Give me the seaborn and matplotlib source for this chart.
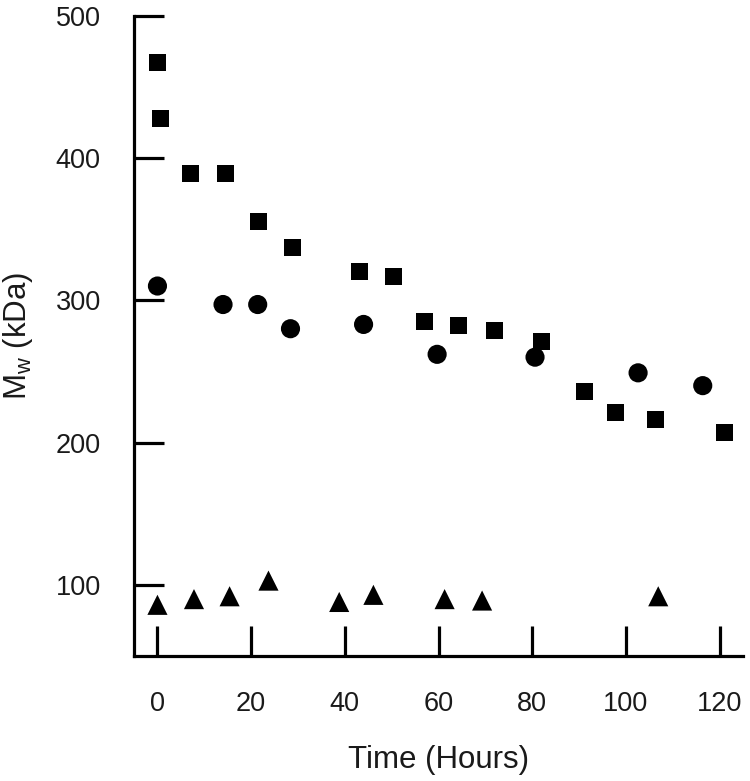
import matplotlib
matplotlib.use("Agg")
import matplotlib.pyplot as plt
import pandas as pd
import seaborn as sns

# values
square_time = [0, 0.7, 7.1, 14.5, 21.5, 28.9, 43.2, 50.3, 57.1, 64.3, 72.0, 82.0, 91.2, 97.7, 106.4, 121.1]
square_mw = [467, 428, 389, 389, 355, 337, 320, 317, 285, 282, 279, 271, 236, 221, 216, 207]
circle_time = [0, 14.0, 21.4, 28.4, 44.0, 59.7, 80.6, 102.6, 116.4]
circle_mw = [310, 297, 297, 280, 283, 262, 260, 249, 240]
triangle_time = [0, 7.8, 15.4, 23.7, 38.8, 46.1, 61.3, 69.3, 106.9]
triangle_mw = [86, 90, 92, 103, 88, 93, 90, 89, 92]

x_ticks = [0, 20, 40, 60, 80, 100, 120]
y_ticks = [100, 200, 300, 400, 500]

sns.set_style("ticks")
plt.rcParams["font.family"] = ["Liberation Sans", "DejaVu Sans"]
plt.rcParams["mathtext.fontset"] = "custom"
plt.rcParams["mathtext.rm"] = "Liberation Sans"
plt.rcParams["mathtext.it"] = "Liberation Sans"

series = [
    (square_time, square_mw, "s", 150),
    (circle_time, circle_mw, "o", 190),
    (triangle_time, triangle_mw, "^", 210),
]

fig = plt.figure(figsize=(7.5, 7.81), dpi=100)
ax = fig.add_axes([0.1787, 0.160, 0.812, 0.820])

for t, mw, marker, size in series:
    df = pd.DataFrame({"time": t, "mw": mw})
    sns.scatterplot(data=df, x="time", y="mw", marker=marker, s=size,
                    color="black", edgecolor="none", ax=ax, zorder=3,
                    clip_on=False)

ax.set_xlim(-5, 125)
ax.set_ylim(50, 500)
ax.set_xticks(x_ticks)
ax.set_yticks(y_ticks)

sns.despine(ax=ax)
for side in ["left", "bottom"]:
    ax.spines[side].set_linewidth(2.3)
    ax.spines[side].set_color("black")

ax.tick_params(axis="both", direction="in", length=21.5, width=2.3,
               color="black", labelsize=19.5, labelcolor="#1a1a1a")
ax.tick_params(axis="x", pad=25)
ax.tick_params(axis="y", pad=24)

ax.set_xlabel("Time (Hours)", fontsize=22.5, labelpad=20, color="#1a1a1a")
ax.set_ylabel(r"M$_\mathrm{w}$ (kDa)", fontsize=22.5, labelpad=15, color="#1a1a1a")

fig.savefig("out.png", dpi=100)
